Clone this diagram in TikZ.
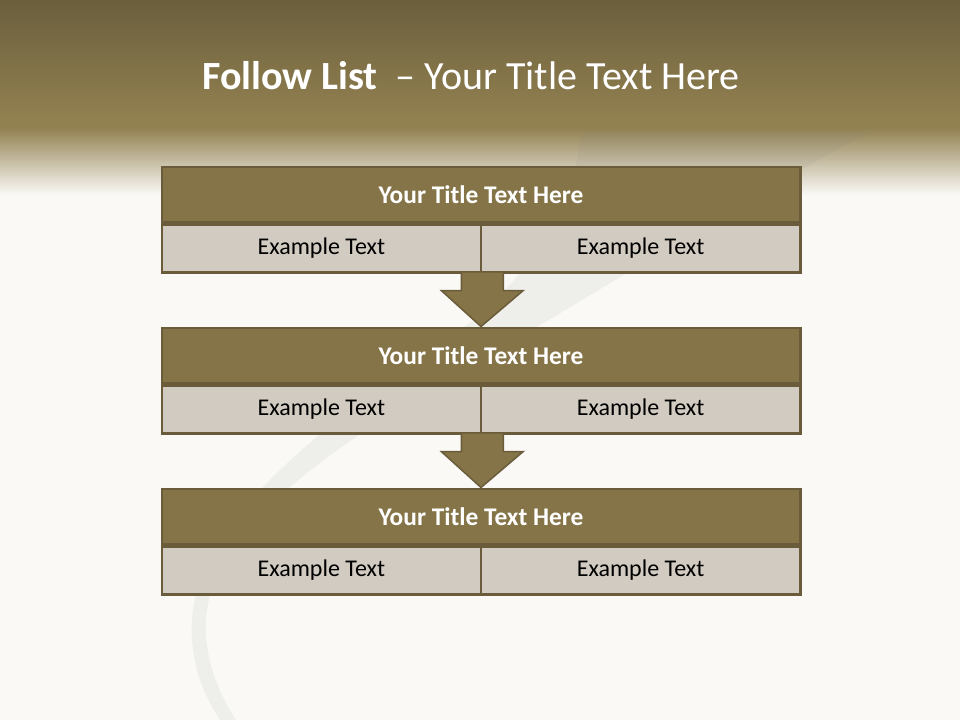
\documentclass[tikz,border=0pt]{standalone}
\usepackage{fontspec}
\setmainfont{Carlito}
\definecolor{bandtop}{HTML}{6B5F3D}
\definecolor{bandbot}{HTML}{918050}
\definecolor{bgc}{HTML}{FAF9F6}
\definecolor{hdr}{HTML}{857447}
\definecolor{edge}{HTML}{6A5C3A}
\definecolor{cell}{HTML}{D1CBC1}
\tikzset{
  x=1pt,y=-1pt,
  hdrbox/.style={draw=edge,line width=2.5pt,fill=hdr,text=white,minimum width=638.5pt,minimum height=55pt,inner sep=0pt,font=\fontsize{25.4}{28}\selectfont\bfseries},
  cellbox/.style={draw=edge,line width=2.5pt,fill=cell,text=black,minimum width=319.25pt,minimum height=48pt,inner sep=0pt,font=\fontsize{24}{28}\selectfont},
  downarrow/.style={draw=edge,line width=1.5pt,fill=hdr,line join=miter},
  swoosh/.style={fill=black!50,opacity=0.09},
}
\begin{document}
\begin{tikzpicture}
\useasboundingbox (0,0) rectangle (960,720);
% background
\fill[bgc] (0,0) rectangle (960,720);
\shade[top color=bandtop,bottom color=bandbot] (0,0) rectangle (960,118);
\fill[bandbot] (0,117) rectangle (960,128);
\shade[top color=bandbot,bottom color=bgc] (0,127.5) rectangle (960,195);
% faint swoosh
\path[swoosh]
  (582,132) .. controls (570,220) and (520,290) .. (440,345)
  .. controls (330,420) and (230,500) .. (200,580)
  .. controls (180,640) and (200,690) .. (220,720)
  -- (236,720) .. controls (210,680) and (195,630) .. (215,580)
  .. controls (250,500) and (360,430) .. (480,360)
  .. controls (620,280) and (740,200) .. (870,132) -- cycle;
% title
\node[text=white,font=\fontsize{40}{44}\selectfont] (title) at (471,76) {\textbf{Follow List}\ \ – Your Title Text Here};
% tables
\foreach \i/\y in {1/165.5,2/326.5,3/487.5}{
  \node[hdrbox,anchor=north west] (h\i) at (160.5,\y) {Your Title Text Here};
  \node[cellbox,anchor=north west] (l\i) at (h\i.south west) {Example Text};
  \node[cellbox,anchor=north east] (r\i) at (h\i.south east) {Example Text};
}
% arrows
\foreach \a/\b in {1/2,2/3}{
  \coordinate (s\a) at (l\a.south east);
  \draw[downarrow] ([xshift=-21pt,yshift=1pt]s\a) -- ([xshift=-21pt,yshift=-17pt]s\a)
     -- ([xshift=-41pt,yshift=-17pt]s\a) -- (h\b.north) -- ([xshift=41pt,yshift=-17pt]s\a)
     -- ([xshift=21pt,yshift=-17pt]s\a) -- ([xshift=21pt,yshift=1pt]s\a);
}
\end{tikzpicture}
\end{document}
